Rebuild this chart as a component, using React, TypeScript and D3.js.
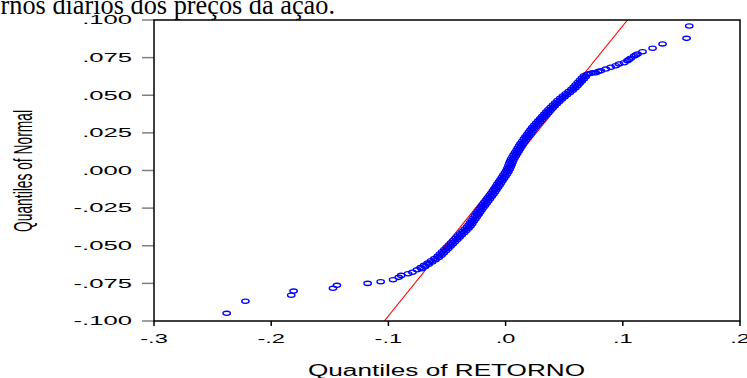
import React from "react";
import * as d3 from "d3";

// [quantile of RETORNO, quantile of Normal]
const lowerTail: [number, number][] = [
  [-0.238, -0.0949], [-0.222, -0.0869], [-0.1829, -0.0829], [-0.1809, -0.0801],
  [-0.1473, -0.0783], [-0.1439, -0.0763], [-0.1177, -0.075], [-0.1066, -0.0739],
  [-0.096, -0.0726], [-0.0912, -0.071], [-0.0891, -0.0697], [-0.0832, -0.0686],
  [-0.0795, -0.0676],
];

const body: [number, number][] = [
  [0.0669, 0.063], [0.0651, 0.0615], [0.0634, 0.06], [0.0616, 0.0585], [0.0598, 0.057],
  [0.0581, 0.0555], [0.0561, 0.054], [0.0537, 0.0525], [0.0513, 0.051], [0.0489, 0.0495],
  [0.0466, 0.048], [0.0443, 0.0465], [0.0424, 0.045], [0.0404, 0.0435], [0.0385, 0.042],
  [0.0366, 0.0405], [0.0348, 0.039], [0.0331, 0.0375], [0.0313, 0.036], [0.0296, 0.0345],
  [0.0278, 0.033], [0.0261, 0.0315], [0.0244, 0.03], [0.0227, 0.0285], [0.0213, 0.027],
  [0.0199, 0.0255], [0.0185, 0.024], [0.017, 0.0225], [0.0156, 0.021], [0.0142, 0.0195],
  [0.0127, 0.018], [0.0116, 0.0165], [0.0104, 0.015], [0.0093, 0.0135], [0.0081, 0.012],
  [0.0069, 0.0105], [0.0058, 0.009], [0.0046, 0.0075], [0.0038, 0.006], [0.003, 0.0045],
  [0.0023, 0.003], [0.0015, 0.0015], [0.0006, 0.0], [-0.0006, -0.0015], [-0.0019, -0.003],
  [-0.0031, -0.0045], [-0.0044, -0.006], [-0.0057, -0.0075], [-0.007, -0.009], [-0.0082, -0.0105],
  [-0.0095, -0.012], [-0.0108, -0.0135], [-0.0121, -0.015], [-0.0135, -0.0165], [-0.015, -0.018],
  [-0.0164, -0.0195], [-0.0179, -0.021], [-0.0193, -0.0225], [-0.0207, -0.024], [-0.0222, -0.0255],
  [-0.0235, -0.027], [-0.0248, -0.0285], [-0.0262, -0.03], [-0.0275, -0.0315], [-0.0289, -0.033],
  [-0.0302, -0.0345], [-0.0315, -0.036], [-0.033, -0.0375], [-0.0349, -0.039], [-0.0368, -0.0405],
  [-0.0388, -0.042], [-0.0407, -0.0435], [-0.0426, -0.045], [-0.0446, -0.0465], [-0.0465, -0.048],
  [-0.0484, -0.0495], [-0.0503, -0.051], [-0.0522, -0.0525], [-0.0542, -0.054], [-0.0561, -0.0555],
  [-0.058, -0.057], [-0.0607, -0.0585], [-0.0636, -0.06], [-0.0665, -0.0615], [-0.0695, -0.063],
  [-0.0725, -0.0645], [-0.0756, -0.066],
];

// points on the right side of the dense band
const bodyRight: [number, number][] = [
  [0.0684, 0.0623], [0.0667, 0.0608], [0.0649, 0.0593], [0.0631, 0.0578], [0.0614, 0.0563],
  [0.0595, 0.0548], [0.0573, 0.0533], [0.0549, 0.0518], [0.0525, 0.0503], [0.0502, 0.0488],
  [0.0479, 0.0473], [0.0458, 0.0458], [0.0438, 0.0443], [0.0419, 0.0428], [0.04, 0.0413],
  [0.0381, 0.0398], [0.0364, 0.0383], [0.0346, 0.0368], [0.0329, 0.0353], [0.0311, 0.0338],
  [0.0294, 0.0323], [0.0277, 0.0308], [0.026, 0.0293], [0.0244, 0.0278], [0.023, 0.0263],
  [0.0216, 0.0248], [0.0202, 0.0233], [0.0187, 0.0218], [0.0173, 0.0203], [0.0159, 0.0188],
  [0.0146, 0.0173], [0.0134, 0.0158], [0.0123, 0.0143], [0.0111, 0.0128], [0.0099, 0.0113],
  [0.0088, 0.0098], [0.0076, 0.0083], [0.0066, 0.0068], [0.0058, 0.0053], [0.0051, 0.0038],
  [0.0043, 0.0023], [0.0035, 0.0008], [0.0024, -0.0008], [0.0012, -0.0023], [-0.0001, -0.0038],
  [-0.0014, -0.0053], [-0.0027, -0.0068], [-0.004, -0.0083], [-0.0052, -0.0098], [-0.0065, -0.0113],
  [-0.0078, -0.0128], [-0.0091, -0.0143], [-0.0104, -0.0158], [-0.0119, -0.0173], [-0.0133, -0.0188],
  [-0.0148, -0.0203], [-0.0162, -0.0218], [-0.0176, -0.0233], [-0.0191, -0.0248], [-0.0205, -0.0263],
  [-0.0218, -0.0278], [-0.0231, -0.0293], [-0.0245, -0.0308], [-0.0258, -0.0323], [-0.0272, -0.0338],
  [-0.0285, -0.0353], [-0.0299, -0.0368], [-0.0316, -0.0383], [-0.0335, -0.0398], [-0.0354, -0.0413],
  [-0.0374, -0.0428], [-0.0393, -0.0443], [-0.0412, -0.0458], [-0.0432, -0.0473], [-0.0451, -0.0488],
  [-0.047, -0.0503], [-0.0489, -0.0518], [-0.0508, -0.0533], [-0.0528, -0.0548], [-0.0547, -0.0563],
  [-0.057, -0.0578], [-0.0598, -0.0593], [-0.0627, -0.0608], [-0.0656, -0.0623], [-0.0686, -0.0638],
  [-0.0717, -0.0653],
];

const upperTail: [number, number][] = [
  [0.0692, 0.0638], [0.0705, 0.0641], [0.0726, 0.0646], [0.0748, 0.0649], [0.0769, 0.065],
  [0.079, 0.0657], [0.0812, 0.0663], [0.0855, 0.0674], [0.0897, 0.0686], [0.094, 0.0696],
  [0.0968, 0.0708], [0.1011, 0.0716], [0.104, 0.073], [0.1054, 0.0738], [0.1068, 0.0746],
  [0.1097, 0.0761], [0.1111, 0.0768], [0.1126, 0.0774], [0.1168, 0.0789], [0.1254, 0.0812],
  [0.1339, 0.0841], [0.1544, 0.0878], [0.1567, 0.096],
];

// reference line (normal fit)
const refLine: [number, number][] = [[-0.1035, -0.1], [0.104, 0.1]];

const xTicks = [-0.3, -0.2, -0.1, 0.0, 0.1, 0.2];
const xTickLabels = ["-.3", "-.2", "-.1", ".0", ".1", ".2"];
const yTicks = [0.1, 0.075, 0.05, 0.025, 0, -0.025, -0.05, -0.075, -0.1];
const yTickLabels = [".100", ".075", ".050", ".025", ".000", "-.025", "-.050", "-.075", "-.100"];

const W = 747;
const H = 378;
const left = 154, right = 740, top = 20, bottom = 321;

export default function App() {
  const x = d3.scaleLinear().domain([-0.3, 0.2]).range([left, right]);
  const y = d3.scaleLinear().domain([-0.1, 0.1]).range([bottom, top]);
  const points = [...lowerTail, ...body, ...bodyRight, ...upperTail];
  const line = d3.line<[number, number]>().x(d => x(d[0])).y(d => y(d[1]));
  const font = "'Liberation Sans', Arial, sans-serif";

  return (
    <svg width={W} height={H} style={{ position: "absolute", left: 0, top: 0, background: "#fff" }}>
      <defs>
        <clipPath id="plot">
          <rect x={left} y={top} width={right - left} height={bottom - top} />
        </clipPath>
      </defs>
      <rect width={W} height={H} fill="#fff" />

      <text x={335} y={13.5} textAnchor="end" fontFamily="'Liberation Serif', 'Times New Roman', serif" fontSize={26.3} fill="#000">
        rnos diários dos preços da ação.
      </text>

      {/* y ticks */}
      {yTicks.map((t, i) => (
        <g key={"y" + i}>
          <line x1={left - 12} x2={left} y1={y(t)} y2={y(t)} stroke="#808080" strokeWidth={1.5} />
          <text transform={`translate(132,${y(t)}) scale(2.05,1)`} textAnchor="end" dominantBaseline="central"
            fontFamily={font} fontSize={12.5} fill="#000">{yTickLabels[i]}</text>
        </g>
      ))}

      {/* x ticks */}
      {xTicks.map((t, i) => (
        <g key={"x" + i}>
          <line x1={x(t)} x2={x(t)} y1={bottom} y2={bottom + 5} stroke="#000" strokeWidth={1.5} />
          <text transform={`translate(${x(t)},343) scale(1.75,1)`} textAnchor="middle"
            fontFamily={font} fontSize={13.5} fill="#000">{xTickLabels[i]}</text>
        </g>
      ))}

      <g clipPath="url(#plot)">
        <path d={line(refLine) || ""} stroke="#ff0000" strokeWidth={1.1} fill="none" />
        {points.map((p, i) => (
          <ellipse key={i} cx={x(p[0])} cy={y(p[1])} rx={3.7} ry={2.1} fill="none" stroke="#0000ff" strokeWidth={1.35} />
        ))}
      </g>

      <rect x={left} y={top} width={right - left} height={bottom - top} fill="none" stroke="#000" strokeWidth={1.5} />

      <text x={446.5} y={376} textAnchor="middle" textLength={277} lengthAdjust="spacingAndGlyphs"
        fontFamily={font} fontSize={16} fill="#000">Quantiles of RETORNO</text>

      <text transform="translate(32,171) scale(1.85,1) rotate(-90)" textAnchor="middle"
        fontFamily={font} fontSize={13.8} fill="#000">Quantiles of Normal</text>
    </svg>
  );
}
